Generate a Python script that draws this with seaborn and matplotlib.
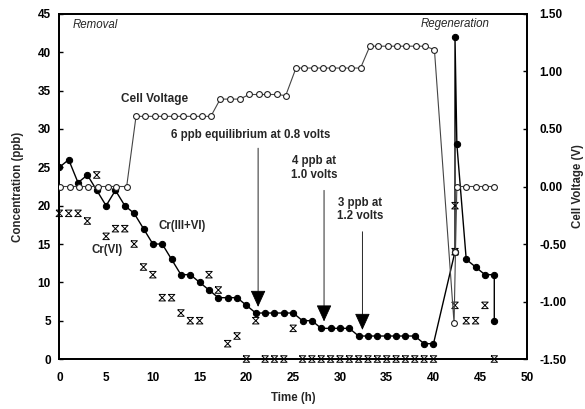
import numpy as np
import pandas as pd
import seaborn as sns
import matplotlib.pyplot as plt
from matplotlib.path import Path

# Total chromium, Cr(III+VI) (ppb)
total_time = [0, 1, 2, 3, 4, 5, 6, 7, 8, 9, 10, 11, 12, 13, 14, 15, 16, 17, 18, 19, 20,
              21, 22, 23, 24, 25, 26, 27, 28, 29, 30, 31, 32, 33, 34, 35, 36, 37, 38, 39, 40,
              42.3, 42.3, 42.5, 43.5, 44.5, 45.5, 46.5, 46.5]
total_ppb = [25, 26, 23, 24, 22, 20, 22, 20, 19, 17, 15, 15, 13, 11, 11, 10, 9, 8, 8, 8, 7,
             6, 6, 6, 6, 6, 5, 5, 4, 4, 4, 4, 3, 3, 3, 3, 3, 3, 3, 2, 2,
             14, 42, 28, 13, 12, 11, 11, 5]

# Hexavalent chromium, Cr(VI) (ppb)
cr6_time = [0, 1, 2, 3, 4, 5, 6, 7, 8, 9, 10, 11, 12, 13, 14, 15, 16, 17, 18, 19, 20,
            21, 22, 23, 24, 25, 26, 27, 28, 29, 30, 31, 32, 33, 34, 35, 36, 37, 38, 39, 40,
            42.3, 42.3, 42.3, 43.5, 44.5, 45.5, 46.5]
cr6_ppb = [19, 19, 19, 18, 24, 16, 17, 17, 15, 12, 11, 8, 8, 6, 5, 5, 11, 9, 2, 3, 0,
           5, 0, 0, 0, 4, 0, 0, 0, 0, 0, 0, 0, 0, 0, 0, 0, 0, 0, 0, 0,
           20, 14, 7, 5, 5, 7, 0]

# Cell voltage (V)
volt_time = [0.1, 1.1, 2.1, 3.1, 4.1, 5.2, 6.1, 7.2,
             8.2, 9.2, 10.2, 11.2, 12.3, 13.2, 14.3, 15.2, 16.2,
             17.2, 18.3, 19.3, 20.3, 21.3, 22.2, 23.3, 24.2,
             25.3, 26.2, 27.2, 28.2, 29.2, 30.2, 31.2, 32.2,
             33.2, 34.1, 35.1, 36.1, 37.1, 38.1, 39.1, 40.1,
             42.2, 42.35, 42.5, 43.5, 44.5, 45.5, 46.5]
volt_v = [0, 0, 0, 0, 0, 0, 0, 0,
          0.61, 0.61, 0.61, 0.61, 0.61, 0.61, 0.61, 0.61, 0.61,
          0.76, 0.76, 0.76, 0.80, 0.80, 0.80, 0.80, 0.79,
          1.03, 1.03, 1.03, 1.03, 1.03, 1.03, 1.03, 1.03,
          1.22, 1.22, 1.22, 1.22, 1.22, 1.22, 1.22, 1.19,
          -1.19, -0.57, 0, 0, 0, 0, 0]

x_ticks = [0, 5, 10, 15, 20, 25, 30, 35, 40, 45, 50]
left_ticks = [0, 5, 10, 15, 20, 25, 30, 35, 40, 45]
right_ticks = [-1.5, -1.0, -0.5, 0.0, 0.5, 1.0, 1.5]

sns.set_theme(style="white")
plt.rcParams["font.family"] = ["Liberation Sans", "DejaVu Sans"]
plt.rcParams["font.weight"] = "bold"

total_df = pd.DataFrame({"t": total_time, "c": total_ppb})
cr6_df = pd.DataFrame({"t": cr6_time, "c": cr6_ppb})
volt_df = pd.DataFrame({"t": volt_time, "v": volt_v})

fig = plt.figure(figsize=(5.85, 4.09), dpi=100)
ax = fig.add_axes([0.1014, 0.1222, 0.7995, 0.8436])
ax2 = ax.twinx()

# hourglass-like cross marker for Cr(VI)
xmark = Path([(-1, 1), (1, 1), (-1, -1), (1, -1), (-1, 1)],
             [Path.MOVETO, Path.LINETO, Path.LINETO, Path.LINETO, Path.LINETO])

sns.lineplot(data=total_df, x="t", y="c", sort=False, estimator=None, ax=ax,
             color="black", lw=1.0, marker="o", markersize=4.5,
             markerfacecolor="black", markeredgecolor="black", zorder=3)
sns.scatterplot(data=cr6_df, x="t", y="c", ax=ax, marker=xmark, s=22,
                facecolor="none", edgecolor="black", linewidth=0.7, zorder=4,
                clip_on=False)
sns.lineplot(data=volt_df, x="t", y="v", sort=False, estimator=None, ax=ax2,
             color="#444444", lw=0.8, marker="o", markersize=4.2,
             markerfacecolor="white", markeredgecolor="#222222",
             markeredgewidth=0.8, zorder=3)

ax.set_xlim(0, 50)
ax.set_ylim(0, 45)
ax2.set_ylim(-1.5, 1.5)
ax.set_xticks(x_ticks)
ax.set_yticks(left_ticks)
ax2.set_yticks(right_ticks)
ax2.set_yticklabels([f"{v:.2f}" for v in right_ticks])

for a in (ax, ax2):
    for s in a.spines.values():
        s.set_linewidth(1.3)
        s.set_color("black")
ax.tick_params(direction="in", length=3, width=1, labelsize=8.5, pad=6, colors="black")
ax.tick_params(axis="x", pad=9)
ax2.tick_params(direction="in", length=3, width=1, labelsize=8.5, pad=9, colors="black")

ax.set_xlabel("Time (h)", fontsize=8.3, fontweight="bold", labelpad=6)
ax.set_ylabel("Concentration (ppb)", fontsize=8.3, fontweight="bold", labelpad=10)
ax2.set_ylabel("Cell Voltage (V)", fontsize=8.3, fontweight="bold", labelpad=4)

# phase labels
ax.text(1.45, 43.6, "Removal", fontsize=8.3, style="italic", fontweight="normal",
        ha="left", va="center")
ax.text(38.6, 43.7, "Regeneration", fontsize=8.3, style="italic", fontweight="normal",
        ha="left", va="center")

# series labels
ax.text(6.55, 33.9, "Cell Voltage", fontsize=8.5, ha="left", va="center")
ax.text(13.1, 17.35, "Cr(III+VI)", fontsize=8.3, ha="center", va="center")
ax.text(5.15, 14.2, "Cr(VI)", fontsize=8.3, ha="center", va="center")

# equilibrium notes with arrows
ax.text(20.45, 29.2, "6 ppb equilibrium at 0.8 volts", fontsize=8.3,
        ha="center", va="center")
ax.text(27.2, 24.9, "4 ppb at\n1.0 volts", fontsize=8.3, ha="center", va="center",
        linespacing=1.2)
ax.text(32.2, 19.5, "3 ppb at\n1.2 volts", fontsize=8.3, ha="center", va="center",
        linespacing=1.2)

arrow_x = [21.25, 28.3, 32.4]
arrow_top = [27.5, 22.0, 16.6]
arrow_tip = [6.8, 4.9, 3.8]
for xa, yt, yb in zip(arrow_x, arrow_top, arrow_tip):
    ax.annotate("", xy=(xa, yb), xytext=(xa, yt),
                arrowprops=dict(arrowstyle="-|>,head_length=0.7,head_width=0.32",
                                color="black", lw=0.6, shrinkA=0, shrinkB=0,
                                mutation_scale=15))

fig.savefig("out.png", dpi=100)
